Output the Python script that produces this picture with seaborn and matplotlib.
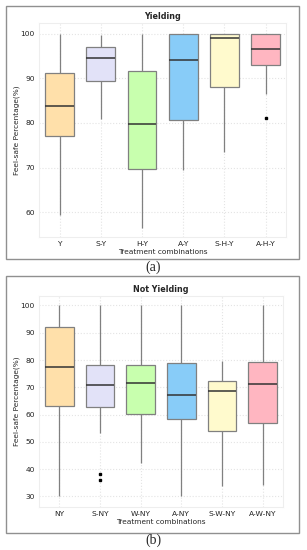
import numpy as np
import pandas as pd
import matplotlib
matplotlib.use("Agg")
import matplotlib.pyplot as plt
from matplotlib.patches import Rectangle
import seaborn as sns

# five-number summaries
yield_groups = ['Y', 'S-Y', 'H-Y', 'A-Y', 'S-H-Y', 'A-H-Y']
yield_low = [59.3, 80.8, 56.5, 69.4, 73.5, 86.4]
yield_q1 = [77.0, 89.3, 69.6, 80.6, 88.0, 92.9]
yield_med = [83.9, 94.5, 79.8, 94.1, 99.0, 96.7]
yield_q3 = [91.2, 97.0, 91.7, 100.0, 100.0, 100.0]
yield_high = [100.0, 99.7, 100.0, 100.0, 100.0, 100.0]
yield_out = [[], [], [], [], [], [81.0]]

ny_groups = ['NY', 'S-NY', 'W-NY', 'A-NY', 'S-W-NY', 'A-W-NY']
ny_low = [30.3, 53.3, 42.3, 30.0, 33.7, 34.2]
ny_q1 = [63.3, 62.8, 60.3, 58.5, 54.1, 57.1]
ny_med = [77.3, 70.7, 71.6, 67.2, 68.6, 71.1]
ny_q3 = [92.1, 78.0, 78.0, 78.8, 72.4, 79.4]
ny_high = [100.0, 100.0, 100.0, 100.0, 79.7, 100.0]
ny_out = [[], [38.3, 36.2], [], [], [], []]

colors = ['#FFE0AA', '#E2E2F8', '#C8FFAE', '#88CCF8', '#FFFACD', '#FFB6C1']


def long_table(groups, low, q1, med, q3, high, out):
    # rebuild points whose quartiles equal the read summaries (n = 4k+1)
    rows = []
    for g, lo, a, m, b, hi, o in zip(groups, low, q1, med, q3, high, out):
        k = len(o) + 1
        pts = sorted(o) + [lo] + [a] + [m] * k + [b] * k + [hi] * k
        for p in pts:
            rows.append((g, p))
    return pd.DataFrame(rows, columns=['group', 'value'])


sns.set_style("whitegrid")
plt.rcParams['font.family'] = ['DejaVu Sans']

fig = plt.figure(figsize=(3.07, 5.5), dpi=100)
ax1 = fig.add_axes([0.127, 0.569, 0.805, 0.389])
ax2 = fig.add_axes([0.127, 0.078, 0.795, 0.384])

panels = [
    (ax1, long_table(yield_groups, yield_low, yield_q1, yield_med, yield_q3, yield_high, yield_out),
     yield_groups, 'Yielding', (54.4, 102.4), [60, 70, 80, 90, 100]),
    (ax2, long_table(ny_groups, ny_low, ny_q1, ny_med, ny_q3, ny_high, ny_out),
     ny_groups, 'Not Yielding', (26.1, 103.5), [30, 40, 50, 60, 70, 80, 90, 100]),
]

for ax, df, groups, title, ylim, yticks in panels:
    sns.boxplot(data=df, x='group', y='value', order=groups, hue='group',
                hue_order=groups, palette=colors, saturation=1, legend=False,
                width=0.7, linewidth=0.9, ax=ax,
                boxprops=dict(edgecolor='#808080'),
                whiskerprops=dict(color='#808080'),
                capprops=dict(color='none'),
                medianprops=dict(color='#333333', linewidth=1.1),
                flierprops=dict(marker='s', markersize=1.5, markerfacecolor='black',
                                markeredgecolor='black'))
    ax.set_ylim(*ylim)
    ax.set_xlim(-0.5, 5.5)
    ax.set_yticks(yticks)
    ax.grid(True, color='#e4e4e4', linestyle=':', linewidth=0.8)
    ax.set_axisbelow(True)
    for s in ax.spines.values():
        s.set_color('#eeeeee')
        s.set_linewidth(0.8)
    ax.tick_params(labelsize=5.4, pad=3, length=0, labelcolor='#222222')
    ax.set_title(title, fontsize=5.8, fontweight='bold', pad=3)
    ax.set_xlabel('Treatment combinations', fontsize=5.3, labelpad=1.5)
    ax.set_ylabel('Feel-safe Percentage(%)', fontsize=5.3)
    ax.yaxis.set_label_coords(-19 / (ax.get_position().width * 307), 0.5)

# panel frames and captions
fig.add_artist(Rectangle((0.0195, 0.529), 0.954, 0.46, transform=fig.transFigure,
                         fill=False, edgecolor='#909090', linewidth=1.0))
fig.add_artist(Rectangle((0.0195, 0.031), 0.954, 0.467, transform=fig.transFigure,
                         fill=False, edgecolor='#909090', linewidth=1.0))
fig.text(0.5, 0.514, '(a)', ha='center', va='center', fontsize=10,
         family='Liberation Serif')
fig.text(0.5, 0.017, '(b)', ha='center', va='center', fontsize=10,
         family='Liberation Serif')

fig.savefig('out.png', dpi=100)
